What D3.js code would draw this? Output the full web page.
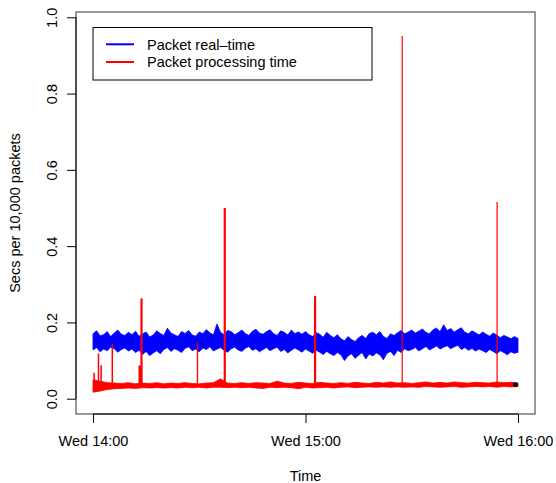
<!DOCTYPE html>
<html><head><meta charset="utf-8">
<script src="https://cdn.jsdelivr.net/npm/d3@7/dist/d3.min.js"></script>
<style>
html,body{margin:0;padding:0;background:#fff;}
svg text{font-family:"Liberation Sans",Arial,Helvetica,sans-serif;font-size:14.5px;fill:#000;}
</style></head><body>
<svg id="chart" width="556" height="483"></svg>
<script>
// ---- data (minutes after Wed 14:00) ----
const seriesNames = ["Packet real\u2013time", "Packet processing time"];
const xTickLabels = ["Wed 14:00", "Wed 15:00", "Wed 16:00"];
const yTicks = [0.0, 0.2, 0.4, 0.6, 0.8, 1.0];

// Blue band (packet real-time), one value per minute 0..120: upper / lower envelope
const realUpper = [
 0.170,0.178,0.165,0.168,0.176,0.163,0.172,0.180,0.169,0.166,
 0.174,0.168,0.177,0.164,0.170,0.175,0.162,0.167,0.178,0.171,
 0.166,0.185,0.172,0.168,0.163,0.176,0.171,0.179,0.167,0.164,
 0.175,0.170,0.181,0.173,0.167,0.196,0.174,0.168,0.179,0.176,
 0.168,0.173,0.180,0.171,0.166,0.177,0.182,0.172,0.169,0.176,
 0.181,0.170,0.166,0.178,0.174,0.167,0.180,0.171,0.175,0.169,
 0.176,0.168,0.163,0.173,0.169,0.161,0.174,0.166,0.160,0.168,
 0.157,0.152,0.163,0.155,0.150,0.160,0.166,0.158,0.171,0.174,
 0.168,0.176,0.163,0.158,0.170,0.166,0.173,0.179,0.170,0.175,
 0.180,0.172,0.177,0.183,0.174,0.170,0.181,0.185,0.176,0.194,
 0.179,0.184,0.175,0.181,0.186,0.174,0.170,0.178,0.173,0.167,
 0.175,0.169,0.164,0.172,0.167,0.160,0.166,0.162,0.157,0.163,0.158];
const realLower = [
 0.128,0.134,0.123,0.130,0.126,0.135,0.131,0.122,0.129,0.133,
 0.125,0.130,0.121,0.127,0.116,0.124,0.113,0.120,0.126,0.118,
 0.129,0.134,0.124,0.131,0.127,0.121,0.132,0.136,0.126,0.130,
 0.123,0.133,0.129,0.136,0.125,0.130,0.134,0.127,0.122,0.131,
 0.135,0.128,0.124,0.132,0.137,0.127,0.131,0.123,0.129,0.134,
 0.126,0.131,0.135,0.124,0.129,0.120,0.127,0.133,0.128,0.122,
 0.130,0.125,0.119,0.127,0.122,0.116,0.124,0.118,0.113,0.121,
 0.115,0.100,0.112,0.118,0.106,0.114,0.121,0.104,0.117,0.112,
 0.120,0.115,0.102,0.119,0.124,0.113,0.127,0.121,0.131,0.126,
 0.129,0.134,0.125,0.131,0.137,0.128,0.133,0.138,0.130,0.135,
 0.139,0.131,0.136,0.140,0.129,0.134,0.127,0.132,0.125,0.130,
 0.126,0.121,0.129,0.124,0.118,0.126,0.121,0.115,0.123,0.119,0.122];

// Red band (packet processing time), one value every 2 minutes 0..120
const procUpper = [
 0.050,0.046,0.042,0.041,0.040,0.042,0.039,0.041,0.040,0.042,
 0.039,0.041,0.040,0.042,0.040,0.039,0.041,0.042,0.052,0.041,
 0.040,0.042,0.040,0.042,0.041,0.040,0.046,0.041,0.040,0.043,
 0.041,0.040,0.043,0.041,0.040,0.042,0.040,0.043,0.041,0.040,
 0.043,0.041,0.044,0.041,0.042,0.040,0.042,0.044,0.041,0.043,
 0.041,0.044,0.042,0.041,0.043,0.042,0.041,0.044,0.042,0.043,0.041];
const procLower = [
 0.017,0.020,0.024,0.026,0.027,0.028,0.027,0.029,0.028,0.029,
 0.028,0.029,0.028,0.030,0.029,0.030,0.028,0.030,0.030,0.029,
 0.030,0.029,0.030,0.028,0.027,0.030,0.029,0.030,0.029,0.026,
 0.030,0.028,0.029,0.030,0.028,0.030,0.031,0.029,0.030,0.031,
 0.030,0.031,0.030,0.031,0.030,0.031,0.030,0.032,0.031,0.030,
 0.031,0.032,0.030,0.031,0.032,0.031,0.032,0.030,0.032,0.031,0.032];

// Processing-time spikes
const spikeMinutes = [0.3, 1.55, 2.3, 5.45, 13.2, 13.7, 29.5, 37.2, 62.7, 87.3, 114.1];
const spikeValues  = [0.068, 0.119, 0.088, 0.144, 0.087, 0.263, 0.147, 0.500, 0.269, 0.951, 0.516];
const spikeBase    = 0.035;

// last point marker
const lastMinute = 119.3;
const lastValue = 0.037;

// ---- styles ----
const spikeWidths = [1.5, 1.5, 1.5, 1.5, 2.5, 2.2, 1.3, 2.2, 2.2, 1.2, 1.2];

// ---- drawing ----
const svg = d3.select("#chart");
const t0 = new Date(2024, 0, 3, 14, 0, 0); // a Wednesday
const toDate = m => new Date(t0.getTime() + m * 60000);

const L = 76, R = 535, T = 12, B = 414;
const x = d3.scaleTime().domain([toDate(-4.8), toDate(124.8)]).range([L, R]);
const y = d3.scaleLinear().domain([-0.0401, 1.0139]).range([B, T]);

// box
svg.append("rect").attr("x", L).attr("y", T).attr("width", R - L).attr("height", B - T)
  .attr("fill", "none").attr("stroke", "#555").attr("stroke-width", 1.2);

// blue band
const blueData = realUpper.map((u, i) => ({m: i, u, l: realLower[i]}));
svg.append("path").datum(blueData)
  .attr("d", d3.area().x(d => x(toDate(d.m))).y0(d => y(d.l)).y1(d => y(d.u)))
  .attr("fill", "#0000ff").attr("stroke", "#0000ff").attr("stroke-width", 0.8)
  .attr("stroke-linejoin", "miter");

// red band
const redData = procUpper.map((u, i) => ({m: i * 2, u, l: procLower[i]}));
svg.append("path").datum(redData)
  .attr("d", d3.area().x(d => x(toDate(d.m))).y0(d => y(d.l)).y1(d => y(d.u)))
  .attr("fill", "#ff0000").attr("stroke", "#ff0000").attr("stroke-width", 0.8);

// spikes
const line = d3.line().x(d => x(toDate(d[0]))).y(d => y(d[1]));
spikeMinutes.forEach((m, i) => {
  svg.append("path").attr("d", line([[m, spikeBase], [m, spikeValues[i]]]))
    .attr("stroke", "#ff0000").attr("stroke-width", spikeWidths[i]).attr("fill", "none");
});

// last point
svg.append("rect").attr("x", x(toDate(lastMinute)) - 2.2).attr("y", y(lastValue) - 2.2)
  .attr("width", 4.4).attr("height", 4.4).attr("rx", 1).attr("fill", "#000");

// y axis
const yAxis = d3.axisLeft(y).tickValues(yTicks).tickSize(9).tickPadding(0).tickFormat(d3.format(".1f"));
const gy = svg.append("g").attr("transform", `translate(${L},0)`).call(yAxis);
gy.select(".domain").remove();
gy.append("line").attr("x1", 0).attr("x2", 0).attr("y1", y(0)).attr("y2", y(1)).attr("stroke", "#000");
gy.selectAll(".tick line").attr("stroke", "#000");
gy.selectAll(".tick text").attr("x", 0).attr("y", 0).attr("dy", 0)
  .attr("transform", `translate(${56.7 - L},0) rotate(-90)`)
  .attr("text-anchor", "middle");
gy.attr("font-family", null).attr("font-size", null);

// x axis
const xTickDates = xTickLabels.map((_, i) => toDate(i * 60));
const xAxis = d3.axisBottom(x).tickValues(xTickDates).tickSize(9).tickPadding(0)
  .tickFormat((d, i) => xTickLabels[i]);
const gx = svg.append("g").attr("transform", `translate(0,${B})`).call(xAxis);
gx.select(".domain").remove();
gx.append("line").attr("x1", x(xTickDates[0])).attr("x2", x(xTickDates[2])).attr("y1", 0).attr("y2", 0).attr("stroke", "#000");
gx.selectAll(".tick line").attr("stroke", "#000");
gx.selectAll(".tick text").attr("y", 446 - B).attr("dy", 0).attr("text-anchor", "middle");
gx.attr("font-family", null).attr("font-size", null);

// axis titles
svg.append("text").attr("x", (L + R) / 2).attr("y", 480.5).attr("text-anchor", "middle").text("Time");
svg.append("text").attr("transform", `translate(19.5,${(T + B) / 2}) rotate(-90)`)
  .attr("text-anchor", "middle").text("Secs per 10,000 packets");

// legend
const lg = svg.append("g");
lg.append("rect").attr("x", 93).attr("y", 27.5).attr("width", 279).attr("height", 52.5)
  .attr("fill", "#fff").attr("stroke", "#000").attr("stroke-width", 1);
const legColors = ["#0000ff", "#ff0000"];
seriesNames.forEach((name, i) => {
  const yy = 44.3 + i * 17.7;
  lg.append("line").attr("x1", 106).attr("x2", 134).attr("y1", yy).attr("y2", yy)
    .attr("stroke", legColors[i]).attr("stroke-width", 2);
  lg.append("text").attr("x", 147).attr("y", yy + 5.2).text(name);
});
</script>
</body></html>
